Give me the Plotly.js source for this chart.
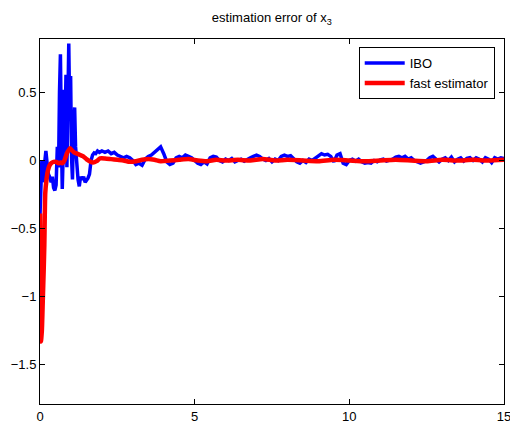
<!DOCTYPE html>
<html>
<head>
<meta charset="utf-8">
<script src="https://cdn.plot.ly/plotly-3.0.1.min.js"></script>
<style>html,body{margin:0;padding:0;background:#fff;}#chart{width:510px;height:425px;}</style>
</head>
<body>
<div id="chart"></div>
<script>
// IBO (blue) — time and error values
const tIBO = [0,0.03,0.06,0.09,0.12,0.15,0.19,0.23,0.27,0.31,0.36,0.40,0.44,0.48,0.52,0.56,0.60,0.63,0.66,0.69,0.72,0.75,0.78,0.81,0.84,0.87,0.90,0.93,0.96,0.99,1.02,1.05,1.08,1.12,1.15,1.19,1.23,1.27,1.31,1.36,1.41,1.46,1.50,1.55,1.60,1.65,1.70,1.75,1.80,1.86,1.92,1.97,
2.0,2.1,2.2,2.3,2.4,2.5,2.6,2.7,2.8,2.9,3.0,3.1,3.2,3.3,3.4,3.5,3.6,3.7,3.8,3.9,4.0,4.1,4.2,4.3,4.4,4.5,4.6,4.7,4.8,4.9,5.0,5.1,5.2,5.3,5.4,5.5,5.6,5.7,5.8,5.9,6.0,6.1,6.2,6.3,6.4,6.5,6.6,6.7,6.8,6.9,7.0,7.1,7.2,7.3,7.4,7.5,7.6,7.7,7.8,7.9,8.0,8.1,8.2,8.3,8.4,8.5,8.6,8.7,8.8,8.9,9.0,9.1,9.2,9.3,9.4,9.5,9.6,9.7,9.8,9.9,10.0,10.1,10.2,10.3,10.4,10.5,10.6,10.7,10.8,10.9,11.0,11.1,11.2,11.3,11.4,11.5,11.6,11.7,11.8,11.9,12.0,12.1,12.2,12.3,12.4,12.5,12.6,12.7,12.8,12.9,13.0,13.1,13.2,13.3,13.4,13.5,13.6,13.7,13.8,13.9,14.0,14.1,14.2,14.3,14.4,14.5,14.6,14.7,14.8,14.9,15.0];
const eIBO = [-0.40,-0.05,0.0,-0.10,-0.16,-0.02,0.07,-0.02,-0.10,-0.12,-0.16,-0.12,-0.20,-0.22,-0.18,0.10,-0.05,0.50,0.78,0.20,-0.21,0.05,0.52,0.25,0.63,-0.05,0.45,0.86,0.35,0.62,0.02,-0.14,0.20,0.39,0.10,-0.08,-0.14,-0.19,-0.12,-0.14,-0.12,-0.16,-0.15,-0.13,-0.10,0.00,0.04,0.055,0.05,0.07,0.06,0.07,
0.07,0.06,0.07,0.05,0.06,0.04,0.03,0.02,0.03,0.02,0.00,-0.03,-0.02,-0.035,0.01,0.03,0.04,0.06,0.08,0.10,0.05,-0.01,-0.03,-0.02,0.02,0.03,0.02,0.04,0.03,0.02,0.00,-0.02,-0.03,-0.01,-0.025,0.02,0.03,0.025,0.00,-0.01,0.01,0.00,0.015,-0.01,0.00,0.01,-0.005,0.01,0.02,0.03,0.04,0.03,0.01,0.00,0.015,-0.01,0.01,0.00,0.03,0.04,0.03,0.035,0.01,-0.01,-0.02,0.00,-0.015,0.01,0.00,0.015,0.03,0.05,0.04,0.045,0.03,-0.01,0.04,0.05,-0.02,-0.03,0.00,0.01,-0.005,0.01,-0.01,-0.02,-0.015,-0.02,0.00,-0.01,0.005,0.01,-0.005,0.00,0.01,0.025,0.03,0.02,0.03,0.01,0.02,0.00,-0.01,-0.02,-0.01,0.00,0.02,0.03,0.01,-0.01,0.01,0.02,0.00,0.025,-0.01,0.01,0.02,-0.005,0.015,0.02,0.00,0.02,0.01,-0.01,0.02,0.01,-0.015,0.02,0.01,0.02,0.015];

// fast estimator (red)
const tFast = [0,0.03,0.06,0.09,0.12,0.14,0.17,0.21,0.25,0.30,0.36,0.44,0.52,0.60,0.67,0.73,0.79,0.85,0.91,0.97,1.03,1.10,1.20,1.30,1.40,1.50,1.60,1.72,1.83,1.94,2.1,2.3,2.5,2.7,2.9,3.1,3.3,3.5,3.7,3.9,4.2,4.5,4.8,5.1,5.4,5.7,6.0,6.4,6.8,7.2,7.6,8.0,8.5,9.0,9.5,10.0,10.5,11.0,11.5,12.0,12.5,13.0,13.5,14.0,14.5,15.0];
const eFast = [-0.39,-1.33,-1.25,-1.03,-0.80,-0.62,-0.24,-0.14,-0.08,-0.04,-0.02,-0.01,-0.01,-0.02,-0.015,-0.02,0.00,0.04,0.07,0.09,0.075,0.06,0.05,0.04,0.03,0.01,-0.005,-0.015,-0.005,0.015,0.015,0.01,0.005,0.00,-0.01,-0.005,0.005,0.01,0.005,-0.005,0.00,0.005,0.01,0.00,-0.005,0.005,0.00,0.005,0.00,0.01,0.00,0.005,0.00,-0.005,0.005,0.00,-0.005,0.00,0.005,0.00,-0.005,0.005,0.00,0.005,0.00,0.005];

const xTicks = [0,5,10,15];
const yTicks = [-1.5,-1,-0.5,0,0.5];

const FONT = 'Liberation Sans, Arial, sans-serif';

const traces = [
  {x: tIBO, y: eIBO, type: 'scatter', mode: 'lines', name: 'IBO',
   line: {color: '#0000ff', width: 3.5}},
  {x: tFast, y: eFast, type: 'scatter', mode: 'lines', name: 'fast estimator',
   line: {color: '#ff0000', width: 4.5, shape: 'spline', smoothing: 0.6}}
];

const axisCommon = {
  showgrid: false, zeroline: false, showline: true, linecolor: '#000', linewidth: 1,
  mirror: 'allticks', ticks: 'inside', ticklen: 5, tickcolor: '#000', tickwidth: 1,
  ticklabeloverflow: 'allow',
  tickfont: {family: FONT, size: 13, color: '#000'}
};

const layout = {
  width: 510, height: 425,
  margin: {l: 40, r: 6, t: 39, b: 21},
  paper_bgcolor: '#fff', plot_bgcolor: '#fff',
  title: {text: 'estimation error of x<sub>3</sub>', x: 0.533, xanchor: 'center', y: 0.958, yanchor: 'middle',
          font: {family: FONT, size: 13, color: '#000'}},
  xaxis: Object.assign({}, axisCommon, {range: [0, 15], tickvals: xTicks, ticktext: xTicks.map(String)}),
  yaxis: Object.assign({}, axisCommon, {range: [-1.79, 0.893], tickvals: yTicks, ticktext: yTicks.map(v => v < 0 ? '\u2212' + Math.abs(v) : String(v))}),
  showlegend: true,
  legend: {x: 0.98, xanchor: 'right', y: 0.978, yanchor: 'top', bgcolor: '#fff',
           bordercolor: '#000', borderwidth: 1, tracegroupgap: 0, itemwidth: 40,
           font: {family: FONT, size: 13, color: '#000'}}
};

Plotly.newPlot('chart', traces, layout, {displayModeBar: false, staticPlot: true});
</script>
</body>
</html>
